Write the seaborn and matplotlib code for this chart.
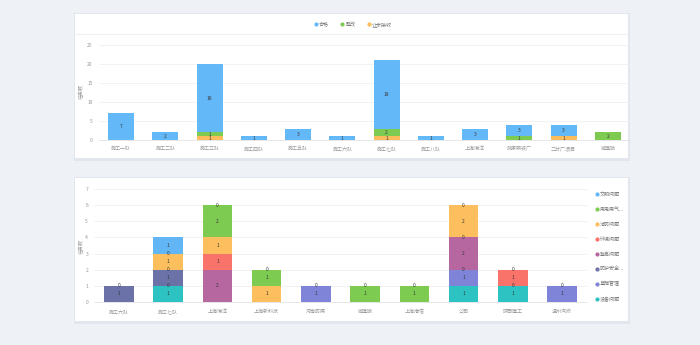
import numpy as np
import pandas as pd
import matplotlib
matplotlib.use("Agg")
import matplotlib.pyplot as plt
import seaborn as sns
from matplotlib.patches import Rectangle
from matplotlib.lines import Line2D

sns.set_theme(style="white")
plt.rcParams['font.family'] = ['Noto Sans CJK SC', 'DejaVu Sans']

# ---------------- data ----------------
top_categories = ["施工一队", "施工二队", "施工三队", "施工四队", "施工五队", "施工六队",
                  "施工七队", "施工八队", "上海瑞洋", "武康钢铁厂", "二分厂项目", "城建院"]
top_series = ["合格", "整改", "让步接收"]
top_pass = [7, 2, 18, 1, 3, 1, 18, 1, 3, 3, 3, 0]
top_rework = [0, 0, 1, 0, 0, 0, 2, 0, 0, 1, 0, 2]
top_concession = [0, 0, 1, 0, 0, 0, 1, 0, 0, 0, 1, 0]
top_colors = ["#63b8f7", "#7dcb51", "#fdbd5c"]

bot_categories = ["施工六队", "施工七队", "上海瑞洋", "上海新科技", "河南防腐",
                  "城建院", "上海港信", "公司", "陕西建工", "温州汽修"]
bot_series = ["文明问题", "用电用气...", "消防问题", "环境问题",
              "登高问题", "防护安全...", "基础管理", "设备问题"]
nan = np.nan
bot_civil = [0, 1, 0, 0, 0, 0, 0, nan, nan, 0]
bot_power = [nan, 0, 2, 1, nan, 1, 1, 0, nan, nan]
bot_fire = [nan, 1, 1, 1, nan, nan, nan, 2, 0, nan]
bot_env = [nan, nan, 1, nan, nan, nan, nan, 0, 1, nan]
bot_height = [nan, 0, 2, nan, nan, nan, nan, 2, nan, nan]
bot_protect = [1, 1, nan, nan, nan, nan, nan, 0, nan, nan]
bot_basic = [nan, 0, nan, nan, 1, nan, nan, 1, 0, 1]
bot_equip = [nan, 1, nan, nan, nan, nan, nan, 1, 1, nan]
bot_colors = ["#63b6f5", "#7ecb51", "#fdbe5e", "#f9736a",
              "#b6679f", "#6a72a8", "#7f84d8", "#2dc3c3"]

W, H = 700, 345
BG = "#eef1f6"
LABEL_C = "#999999"
VAL_C = "#3a3a3a"
FS = 3.6

fig = plt.figure(figsize=(W / 100, H / 100), dpi=100, facecolor=BG)


def px_rect(x0, y0, x1, y1):
    return (x0 / W, 1 - y1 / H, (x1 - x0) / W, (y1 - y0) / H)


def card(x0, y0, x1, y1):
    sx, sy, sw, sh = px_rect(x0 - 1.5, y0 - 1, x1 + 1.5, y1 + 2.5)
    fig.patches.append(Rectangle((sx, sy), sw, sh, transform=fig.transFigure,
                                 facecolor="#e2e6ee", edgecolor="none", zorder=-3))
    cx, cy, cw, ch = px_rect(x0, y0, x1, y1)
    fig.patches.append(Rectangle((cx, cy), cw, ch, transform=fig.transFigure,
                                 facecolor="white", edgecolor="none", zorder=-2))


card(75, 14, 628, 158)
card(75, 178, 628, 321)
fig.lines.append(Line2D([75 / W, 628 / W], [1 - 34 / H, 1 - 34 / H],
                        transform=fig.transFigure, color="#eeeeee", lw=0.6, zorder=-1))


def style_ax(ax, ymax, step, xpad, ypad):
    ax.set_facecolor("none")
    ax.set_ylim(0, ymax)
    ax.set_yticks(np.arange(0, ymax + 0.1, step))
    ax.yaxis.grid(True, color="#f0f0f0", lw=0.6)
    ax.set_axisbelow(True)
    for s in ["top", "right", "left"]:
        ax.spines[s].set_visible(False)
    ax.spines["bottom"].set_color("#e3e3e3")
    ax.spines["bottom"].set_linewidth(0.6)
    ax.tick_params(axis="both", length=0, labelsize=FS, labelcolor=LABEL_C)
    ax.tick_params(axis="x", pad=xpad)
    ax.tick_params(axis="y", pad=ypad)
    ax.set_xlabel("")
    ax.set_ylabel("")


# ---------------- top chart ----------------
ax1 = fig.add_axes([99 / W, 1 - 140 / H, 531 / W, 95 / H])
top_df = pd.DataFrame({"cat": top_categories, "合格": top_pass,
                       "整改": top_rework, "让步接收": top_concession})
stack_order = ["让步接收", "整改", "合格"]
bottom = np.zeros(len(top_categories))
for name in stack_order:
    col = top_colors[top_series.index(name)]
    vals = top_df[name].to_numpy(dtype=float)
    sns.barplot(data=top_df, x="cat", y=name, ax=ax1, color=col, width=0.59,
                bottom=bottom, linewidth=0, saturation=1, errorbar=None)
    for i, v in enumerate(vals):
        if v > 0:
            ax1.text(i, bottom[i] + v / 2, f"{int(v)}", ha="center", va="center",
                     fontsize=FS, color=VAL_C)
    bottom = bottom + vals
style_ax(ax1, 25, 5, 4.5, 4.5)
fig.text(82 / W, 1 - 92 / H, "任务数", rotation=90, ha="center", va="center",
         fontsize=FS, color=LABEL_C)

handles = [Line2D([], [], marker="o", ls="", color=c, markersize=2.0) for c in top_colors]
fig.legend(handles, top_series, loc="center", bbox_to_anchor=(353 / W, 1 - 24.5 / H),
           ncol=3, frameon=False, fontsize=FS, handletextpad=0.3, columnspacing=2.2,
           labelcolor="#777777", handlelength=0.8)

# ---------------- bottom chart ----------------
ax2 = fig.add_axes([94.4 / W, 1 - 302 / H, 492.2 / W, 113 / H])
bot_df = pd.DataFrame({"cat": bot_categories,
                       "文明问题": bot_civil, "用电用气...": bot_power,
                       "消防问题": bot_fire, "环境问题": bot_env,
                       "登高问题": bot_height, "防护安全...": bot_protect,
                       "基础管理": bot_basic, "设备问题": bot_equip})
bottom = np.zeros(len(bot_categories))
for name in bot_series[::-1]:
    col = bot_colors[bot_series.index(name)]
    raw = bot_df[name].to_numpy(dtype=float)
    vals = np.nan_to_num(raw)
    plot_df = pd.DataFrame({"cat": bot_categories, "v": vals})
    sns.barplot(data=plot_df, x="cat", y="v", ax=ax2, color=col, width=0.6,
                bottom=bottom, linewidth=0, saturation=1, errorbar=None)
    for i, v in enumerate(raw):
        if np.isnan(v):
            continue
        ax2.text(i, bottom[i] + v / 2, f"{int(v)}", ha="center", va="center",
                 fontsize=FS, color=VAL_C)
    bottom = bottom + vals
style_ax(ax2, 7, 1, 5, 4.5)
fig.text(82 / W, 1 - 246 / H, "任务数", rotation=90, ha="center", va="center",
         fontsize=FS, color=LABEL_C)

handles2 = [Line2D([], [], marker="o", ls="", color=c, markersize=2.0) for c in bot_colors]
fig.legend(handles2, bot_series, loc="upper left", bbox_to_anchor=(590 / W, 1 - 187 / H),
           ncol=1, frameon=False, fontsize=FS, handletextpad=0.3, labelspacing=2.0,
           labelcolor="#777777", handlelength=0.8)

fig.savefig("out.png", dpi=100, facecolor=BG)
